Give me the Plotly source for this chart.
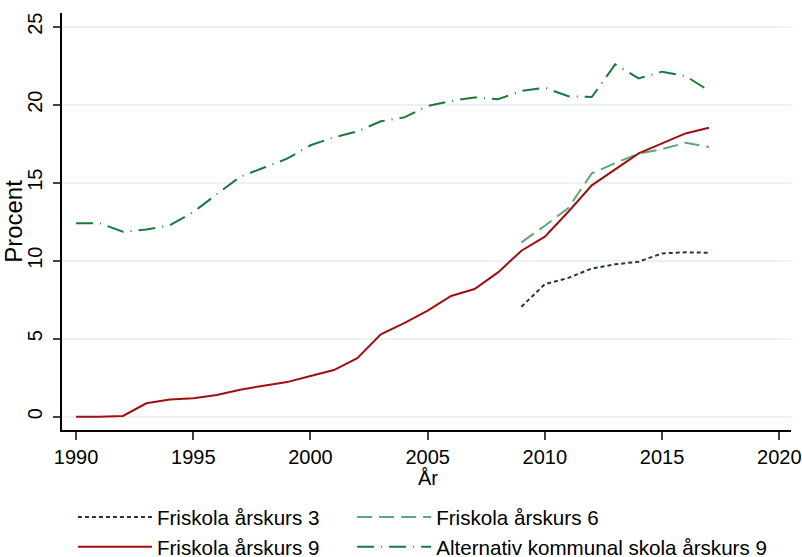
import plotly.graph_objects as go

# --- data --------------------------------------------------------------------

years = list(range(1990, 2018))
years_late = list(range(2009, 2018))

friskola_ak3 = [7.05, 8.5, 8.9, 9.5, 9.77, 9.94, 10.47, 10.54, 10.51]
friskola_ak6 = [11.18, 12.24, 13.38, 15.6, 16.26, 16.86, 17.16, 17.56, 17.29]
friskola_ak9 = [0.0, 0.0, 0.05, 0.86, 1.11, 1.18, 1.39, 1.73, 1.99, 2.22,
                2.61, 2.99, 3.76, 5.28, 6.0, 6.8, 7.74, 8.19, 9.25, 10.64,
                11.54, 13.14, 14.83, 15.86, 16.88, 17.52, 18.16, 18.53]
alt_kommunal_ak9 = [12.4, 12.41, 11.86, 12.0, 12.27, 13.12, 14.26, 15.38,
                    15.96, 16.54, 17.4, 17.91, 18.29, 18.94, 19.19, 19.92,
                    20.24, 20.47, 20.35, 20.88, 21.09, 20.54, 20.49, 22.59,
                    21.69, 22.12, 21.84, 20.9]

x_ticks = [1990, 1995, 2000, 2005, 2010, 2015, 2020]
y_ticks = [0, 5, 10, 15, 20, 25]

FONT = "Liberation Sans, Arial, sans-serif"

fig = go.Figure()

# legend = left column, legend2 = right column (Stata-style 2x2 key)
fig.add_trace(go.Scatter(
    x=years_late, y=friskola_ak3, mode="lines", name="Friskola årskurs 3",
    line=dict(color="#26324f", width=2, dash="4px,3px"),
    legend="legend",
))
fig.add_trace(go.Scatter(
    x=years_late, y=friskola_ak6, mode="lines", name="Friskola årskurs 6",
    line=dict(color="#5ea47c", width=2, dash="15px,7px"),
    legend="legend2",
))
fig.add_trace(go.Scatter(
    x=years, y=friskola_ak9, mode="lines", name="Friskola årskurs 9",
    line=dict(color="#a00f0f", width=2),
    legend="legend",
))
fig.add_trace(go.Scatter(
    x=years, y=alt_kommunal_ak9, mode="lines",
    name="Alternativ kommunal skola årskurs 9",
    line=dict(color="#1a7a3e", width=2, dash="17px,7px,1px,7px"),
    legend="legend2",
))

# x title placed by hand, a bit tighter to the tick labels than plotly allows
fig.add_annotation(
    text="År", x=2005, xref="x", y=-0.114, yref="paper",
    showarrow=False, yanchor="middle", font=dict(size=20),
)

legend_style = dict(
    orientation="v", xanchor="left", y=-0.161, yanchor="top",
    itemwidth=74, font=dict(size=20.6), tracegroupgap=0,
    bgcolor="rgba(0,0,0,0)",
)

fig.update_layout(
    width=802, height=557,
    margin=dict(l=62, r=11, t=13, b=127, autoexpand=False),
    paper_bgcolor="white", plot_bgcolor="white",
    font=dict(family=FONT, size=20, color="#000"),
    xaxis=dict(
        range=[1989.4, 2020.5], tickvals=x_ticks,
        showgrid=False, zeroline=False,
        showline=True, linecolor="#000", linewidth=1.5,
        ticks="outside", ticklen=8, tickcolor="#444", tickwidth=1.5,
    ),
    yaxis=dict(
        range=[-0.85, 25.88], tickvals=y_ticks, tickangle=-90,
        ticklabelstandoff=3,
        showgrid=True, gridcolor="#eaf2f3", gridwidth=1.5, zeroline=False,
        showline=True, linecolor="#000", linewidth=1.5,
        ticks="outside", ticklen=7, tickcolor="#444", tickwidth=1.5,
        title=dict(text="Procent", standoff=0),
    ),
    legend=dict(x=0.015, **legend_style),
    legend2=dict(x=0.398, **legend_style),
)

fig.write_html(
    "out.html",
    config={"displayModeBar": False},
    post_script="document.body.style.margin='0';",
)
